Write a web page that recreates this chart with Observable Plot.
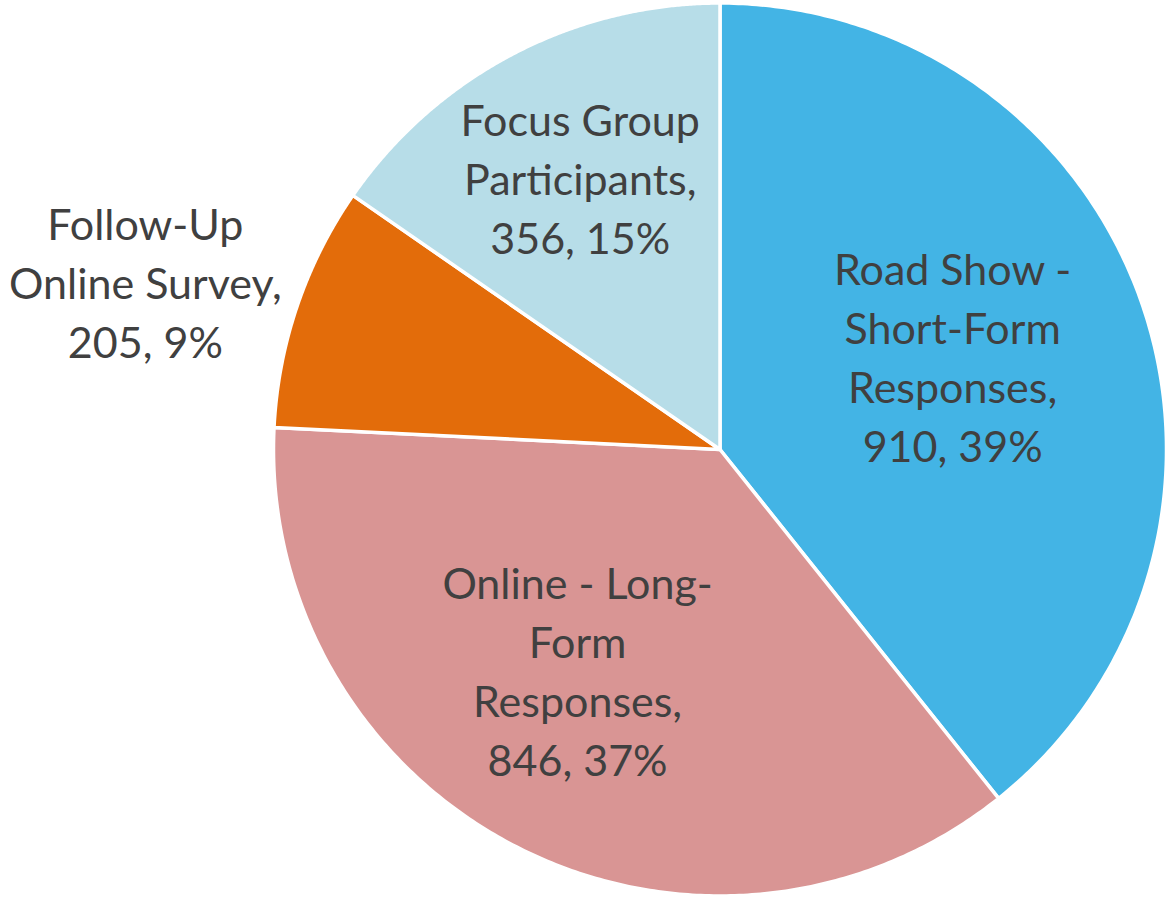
<!DOCTYPE html>
<html><head><meta charset="utf-8">
<script src="https://cdn.jsdelivr.net/npm/d3@7"></script>
<script src="https://cdn.jsdelivr.net/npm/@observablehq/plot@0.6"></script>
<style>html,body{margin:0;padding:0;background:#fff;overflow:hidden;}</style>
</head><body><div id="chart"></div>
<script>
// ---- data ----
const categories = ["Road Show - Short-Form Responses", "Online - Long-Form Responses", "Follow-Up Online Survey", "Focus Group Participants"];
const labelText = ["Road Show -\nShort-Form\nResponses,", "Online - Long-\nForm\nResponses,", "Follow-Up\nOnline Survey,", "Focus Group\nParticipants,"];
const values = [910, 846, 205, 356];
const colors = ["#43B4E5", "#D99594", "#E36C0A", "#B7DDE8"];

// ---- layout (chart units, radius = 1) ----
const labelX = [0.521, -0.319, -1.287, -0.313];
const labelY = [0.213, -0.4906, 0.380, 0.6125];

const W = 1170, H = 897, cx = 719.5, cy = 449, R = 446.5;
const total = d3.sum(values);

// slice outlines (clockwise from 12 o'clock)
const pts = [];
let acc = 0;
values.forEach((v, i) => {
  const a0 = acc / total * 2 * Math.PI;
  acc += v;
  const a1 = acc / total * 2 * Math.PI;
  const n = 240;
  pts.push({name: categories[i], x: 0, y: 0});
  for (let k = 0; k <= n; k++) {
    const a = a0 + (a1 - a0) * k / n;
    pts.push({name: categories[i], x: Math.sin(a), y: Math.cos(a)});
  }
  pts.push({name: categories[i], x: 0, y: 0});
});

const labels = categories.map((c, i) => ({
  name: c,
  text: `${labelText[i]}\n${values[i]}, ${Math.round(values[i] / total * 100)}%`,
  x: labelX[i], y: labelY[i]
}));

const chart = Plot.plot({
  width: W, height: H, margin: 0,
  style: {background: "#fff"},
  x: {domain: [-cx / R, (W - cx) / R], axis: null},
  y: {domain: [-(H - cy) / R, cy / R], axis: null},
  color: {domain: categories, range: colors},
  marks: [
    Plot.line(pts, {x: "x", y: "y", z: "name", fill: "name", stroke: "#fff", strokeWidth: 3.5, strokeLinejoin: "round", curve: "linear"}),
    Plot.text(labels, {x: "x", y: "y", text: "text", fill: "#404040", fontSize: 43, lineHeight: 1.372, fontFamily: "Lato", textAnchor: "middle", lineAnchor: "middle"})
  ]
});
document.getElementById("chart").appendChild(chart);
</script>
</body></html>
